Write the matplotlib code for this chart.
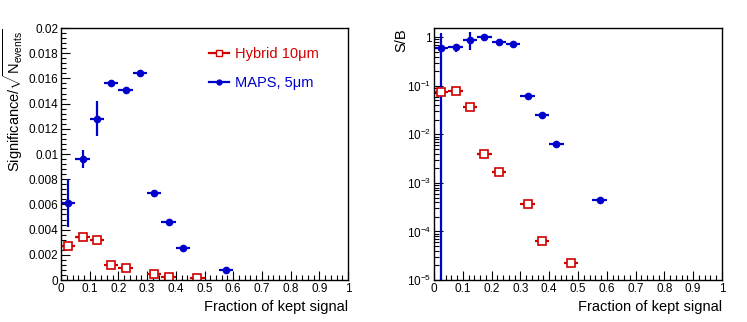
import numpy as np
import matplotlib
matplotlib.use("Agg")
import matplotlib.pyplot as plt
from matplotlib.ticker import MultipleLocator, FuncFormatter, LogLocator, NullFormatter
from matplotlib.lines import Line2D

plt.rcParams['font.family'] = ['Liberation Sans', 'DejaVu Sans']
plt.rcParams['mathtext.fontset'] = 'custom'
plt.rcParams['mathtext.rm'] = 'Liberation Sans'
plt.rcParams['mathtext.it'] = 'Liberation Sans:italic'

red = '#d00000'
blue = '#0000cc'
half_bin = 0.025

# left panel: significance / sqrt(N_events)
maps_x = [0.025, 0.075, 0.125, 0.175, 0.225, 0.275, 0.325, 0.375, 0.425, 0.575]
maps_sig = [0.0061, 0.0096, 0.0128, 0.01566, 0.01508, 0.0164, 0.00688, 0.00458, 0.00257, 0.00077]
maps_sig_err = [0.0019, 0.0007, 0.0014, 0.0002, 0.0001, 0.0002, 0.0001, 0.0001, 0.0001, 0.0001]

hyb_x = [0.025, 0.075, 0.125, 0.175, 0.225, 0.325, 0.375, 0.475]
hyb_sig = [0.0027, 0.00344, 0.00315, 0.00122, 0.00093, 0.0005, 0.0002, 0.00012]
hyb_sig_err = [0.0001, 0.0001, 0.0001, 0.0001, 0.0001, 0.0001, 0.0001, 0.0001]

# right panel: S/B
maps_sb = [0.59, 0.628, 0.888, 0.995, 0.807, 0.735, 0.0607, 0.0246, 0.0064, 0.00044]
maps_sb_lo = [0.59 - 1e-7, 0.125, 0.343, 0.0, 0.0, 0.0, 0.0, 0.0, 0.0, 0.0]
maps_sb_hi = [0.61, 0.107, 0.372, 0.0, 0.0, 0.0, 0.0, 0.0, 0.0, 0.0]

hyb_sb = [0.073, 0.080, 0.037, 0.00387, 0.00165, 0.00037, 0.0000625, 0.0000224]

fig = plt.figure(figsize=(7.47, 3.22), dpi=100)
ax1 = fig.add_axes([0.0817, 0.1304, 0.3842, 0.7826])
ax2 = fig.add_axes([0.581, 0.1304, 0.3855, 0.7826])

fmt = FuncFormatter(lambda v, p: '%g' % v)

def style(ax):
    ax.tick_params(which='both', direction='in', top=False, right=False, labelsize=8.5, pad=2)
    ax.tick_params(which='major', length=6.5, width=0.8)
    ax.tick_params(which='minor', length=3.3, width=0.8)
    ax.set_xlim(0, 1)
    ax.xaxis.set_major_locator(MultipleLocator(0.1))
    ax.xaxis.set_minor_locator(MultipleLocator(0.02))
    ax.xaxis.set_major_formatter(fmt)
    for s in ax.spines.values():
        s.set_linewidth(1.0)
    ax.set_xlabel('Fraction of kept signal', fontsize=10.5, loc='right', labelpad=4)

# left
ax1.errorbar(hyb_x, hyb_sig, xerr=half_bin, yerr=hyb_sig_err, fmt='s', color=red,
             mfc='white', mec=red, ms=5.5, mew=1.2, elinewidth=1.6, capsize=0)
ax1.errorbar(maps_x, maps_sig, xerr=half_bin, yerr=maps_sig_err, fmt='o', color=blue,
             ms=4.5, elinewidth=1.6, capsize=0)
style(ax1)
ax1.set_ylim(0, 0.02)
ax1.yaxis.set_major_locator(MultipleLocator(0.002))
ax1.yaxis.set_minor_locator(MultipleLocator(0.0004))
ax1.yaxis.set_major_formatter(fmt)
ax1.set_ylabel(r'Significance/$\sqrt{\mathrm{N}_{\mathrm{events}}}$', fontsize=10.5, loc='top')
ax1.yaxis.set_label_coords(-0.125, 1.0)

handles = [Line2D([], [], color=red, marker='s', mfc='white', mec=red, ms=4, mew=1, lw=1.6),
           Line2D([], [], color=blue, marker='o', ms=3.5, lw=1.6)]
leg = ax1.legend(handles, ['Hybrid 10\u03bcm', 'MAPS, 5\u03bcm'], loc='upper left',
                 bbox_to_anchor=(0.47, 0.975), frameon=False, fontsize=10.5,
                 handlelength=1.4, handletextpad=0.4, labelspacing=1.0)
for t, c in zip(leg.get_texts(), [red, blue]):
    t.set_color(c)

# right
ax2.errorbar(hyb_x, hyb_sb, xerr=half_bin, fmt='s', color=red,
             mfc='white', mec=red, ms=5.5, mew=1.2, elinewidth=1.6, capsize=0)
ax2.errorbar(maps_x, maps_sb, xerr=half_bin, yerr=[maps_sb_lo, maps_sb_hi], fmt='o', color=blue,
             ms=4.5, elinewidth=1.6, capsize=0)
style(ax2)
ax2.set_yscale('log')
ax2.set_ylim(1e-5, 1.55)
ax2.yaxis.set_major_locator(LogLocator(base=10, numticks=10))
ax2.yaxis.set_minor_locator(LogLocator(base=10, subs=np.arange(2, 10), numticks=20))
ax2.yaxis.set_minor_formatter(NullFormatter())
ax2.yaxis.set_major_formatter(FuncFormatter(
    lambda v, p: '1' if abs(v - 1) < 1e-9 else r'$10^{%d}$' % round(np.log10(v))))
ax2.set_ylabel('S/B', fontsize=10.5, loc='top')
ax2.yaxis.set_label_coords(-0.09, 1.0)

fig.savefig('out.png', dpi=100)
